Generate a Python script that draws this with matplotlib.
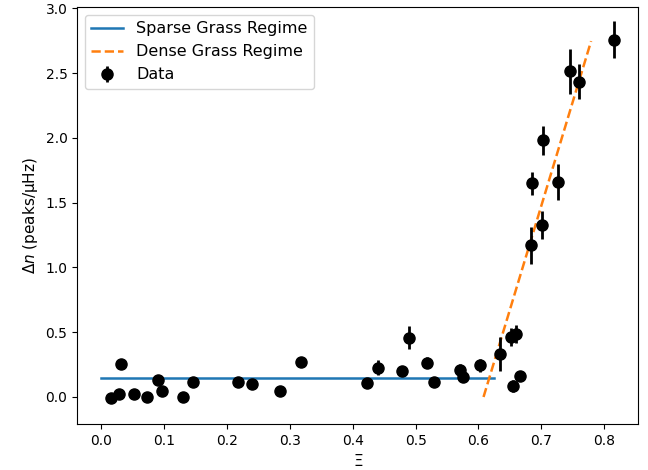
import numpy as np
import matplotlib.pyplot as plt

# measured points: grass parameter, peak density excess and its error
xi = [0.016, 0.028, 0.031, 0.052, 0.073, 0.090, 0.097, 0.130, 0.147,
      0.217, 0.240, 0.285, 0.318, 0.423, 0.440, 0.479, 0.490, 0.518,
      0.529, 0.571, 0.575, 0.602, 0.634, 0.651, 0.655, 0.660, 0.666,
      0.684, 0.685, 0.701, 0.703, 0.726, 0.746, 0.760, 0.815]
dn = [-0.01, 0.02, 0.254, 0.02, 0.0, 0.133, 0.046, 0.0, 0.116,
      0.116, 0.10, 0.046, 0.272, 0.11, 0.226, 0.203, 0.457, 0.265,
      0.116, 0.205, 0.157, 0.244, 0.33, 0.46, 0.085, 0.483, 0.164,
      1.17, 1.65, 1.326, 1.981, 1.658, 2.513, 2.434, 2.758]
dn_err = [0.02, 0.02, 0.03, 0.02, 0.02, 0.03, 0.02, 0.02, 0.03,
          0.04, 0.03, 0.02, 0.03, 0.03, 0.06, 0.03, 0.09, 0.04,
          0.03, 0.05, 0.04, 0.05, 0.13, 0.07, 0.05, 0.07, 0.04,
          0.14, 0.09, 0.11, 0.11, 0.14, 0.175, 0.137, 0.144]

# sparse regime: constant level
sparse_x = [0.0, 0.625]
sparse_y = [0.144, 0.144]
# dense regime: linear rise
dense_x = [0.608, 0.779]
dense_y = [0.0, 2.747]

fig = plt.figure(figsize=(6.48, 4.70), dpi=100)
ax = fig.add_axes([0.119, 0.098, 0.866, 0.887])

ax.plot(sparse_x, sparse_y, '-', lw=1.8, label='Sparse Grass Regime')
ax.plot(dense_x, dense_y, '--', lw=1.8, label='Dense Grass Regime')
ax.errorbar(xi, dn, yerr=dn_err, fmt='o', color='black', markersize=8,
            elinewidth=2, label='Data')

ax.set_xlim(-0.038, 0.854)
ax.set_ylim(-0.208, 3.01)
ax.set_xlabel(r'$\Xi$', fontsize=11)
ax.set_ylabel(r'$\Delta n$ (peaks/μHz)', fontsize=11)
ax.legend(loc='upper left', fontsize=11.5)

plt.savefig('out.png', dpi=100)
